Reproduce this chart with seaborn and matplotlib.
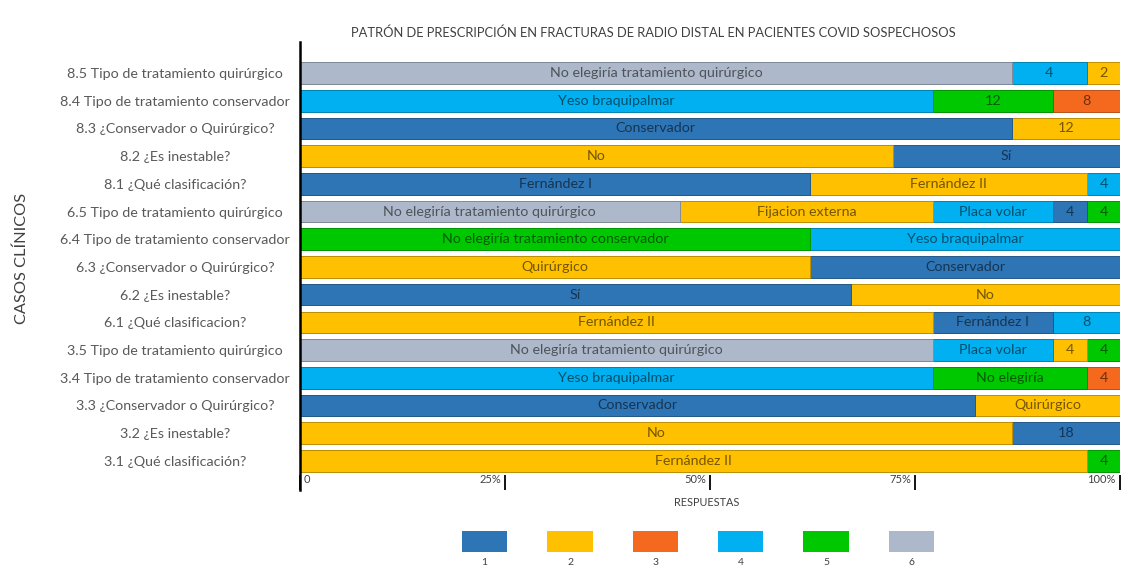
# plot.py
# Patrón de prescripción en fracturas de radio distal: barras apiladas al 100 %

import numpy as np
import pandas as pd
import matplotlib
matplotlib.use('Agg')
import matplotlib.pyplot as plt
import seaborn as sns
from matplotlib.colors import to_rgb
from matplotlib.transforms import blended_transform_factory

# ---- datos (de arriba a abajo) ----
questions = [
    '8.5 Tipo de tratamiento quirúrgico',
    '8.4 Tipo de tratamiento conservador',
    '8.3 ¿Conservador o Quirúrgico?',
    '8.2 ¿Es inestable?',
    '8.1 ¿Qué clasificación?',
    '6.5 Tipo de tratamiento quirúrgico',
    '6.4 Tipo de tratamiento conservador',
    '6.3 ¿Conservador o Quirúrgico?',
    '6.2 ¿Es inestable?',
    '6.1 ¿Qué clasificacion?',
    '3.5 Tipo de tratamiento quirúrgico',
    '3.4 Tipo de tratamiento conservador',
    '3.3 ¿Conservador o Quirúrgico?',
    '3.2 ¿Es inestable?',
    '3.1 ¿Qué clasificación?',
]

# categoría de respuesta (1-6) de cada tramo
seg_cats = [
    ['6', '4', '2'],
    ['4', '5', '3'],
    ['1', '2'],
    ['2', '1'],
    ['1', '2', '4'],
    ['6', '2', '4', '1', '5'],
    ['5', '4'],
    ['2', '1'],
    ['1', '2'],
    ['2', '1', '4'],
    ['6', '4', '2', '5'],
    ['4', '5', '3'],
    ['1', '2'],
    ['2', '1'],
    ['2', '5'],
]

# porcentaje de respuestas de cada tramo
seg_pcts = [
    [86.8, 9.2, 4.0],
    [77.2, 14.6, 8.2],
    [86.8, 13.2],
    [72.3, 27.7],
    [62.2, 33.8, 4.0],
    [46.3, 30.9, 14.6, 4.2, 4.0],
    [62.2, 37.8],
    [62.2, 37.8],
    [67.2, 32.8],
    [77.2, 14.6, 8.2],
    [77.2, 14.6, 4.2, 4.0],
    [77.2, 18.8, 4.0],
    [82.3, 17.7],
    [86.8, 13.2],
    [96.0, 4.0],
]

# etiqueta de cada tramo
seg_text = [
    ['No elegiría tratamiento quirúrgico', '4', '2'],
    ['Yeso braquipalmar', '12', '8'],
    ['Conservador', '12'],
    ['No', 'Sí'],
    ['Fernández I', 'Fernández II', '4'],
    ['No elegiría tratamiento quirúrgico', 'Fijacion externa', 'Placa volar', '4', '4'],
    ['No elegiría tratamiento conservador', 'Yeso braquipalmar'],
    ['Quirúrgico', 'Conservador'],
    ['Sí', 'No'],
    ['Fernández II', 'Fernández I', '8'],
    ['No elegiría tratamiento quirúrgico', 'Placa volar', '4', '4'],
    ['Yeso braquipalmar', 'No elegiría', '4'],
    ['Conservador', 'Quirúrgico'],
    ['No', '18'],
    ['Fernández II', '4'],
]

categories = ['1', '2', '3', '4', '5', '6']
palette = {'1': '#2E75B6', '2': '#FFC000', '3': '#F5691F',
           '4': '#00B0F0', '5': '#00C800', '6': '#ADB9CA'}

x_ticks = [0, 25, 50, 75, 100]
x_ticklabels = ['0', '25%', '50%', '75%', '100%']


def dark(color, f=0.45):
    return tuple(np.array(to_rgb(color)) * f)


# ---- tabla larga ----
rows = []
for q, cats, pcts, texts in zip(questions, seg_cats, seg_pcts, seg_text):
    left = 0.0
    for k, (c, p, t) in enumerate(zip(cats, pcts, texts)):
        rows.append(dict(question=q, pos=k, cat=c, pct=p,
                         end=left + p, mid=left + p / 2, text=t))
        left += p
df = pd.DataFrame(rows)

sns.set_theme(style='white')
plt.rcParams['font.family'] = ['Lato', 'DejaVu Sans']

fig = plt.figure(figsize=(11.33, 5.71), dpi=100)
ax = fig.add_axes([300 / 1133, 1 - 490 / 571, 820 / 1133, 448 / 571])

# barras acumuladas, del último tramo al primero
for k in sorted(df['pos'].unique(), reverse=True):
    sub = df[df['pos'] == k]
    sns.barplot(data=sub, x='end', y='question', hue='cat', order=questions,
                hue_order=categories, palette=palette, dodge=False,
                legend=False, width=0.78, saturation=1, orient='h', ax=ax,
                errorbar=None)

for p in ax.patches:
    p.set_edgecolor(dark(p.get_facecolor(), 0.75))
    p.set_linewidth(0.7)

# etiquetas dentro de las barras
ypos = {q: i for i, q in enumerate(questions)}
for _, r in df.iterrows():
    ax.text(r['mid'], ypos[r['question']], r['text'], ha='center', va='center',
            fontsize=10.3, color=dark(palette[r['cat']]))

ax.set_xlim(0, 100)
ax.set_ylim(15.05, -1.12)
ax.set_yticks(range(len(questions)))
ax.set_yticklabels(questions, ha='center', fontsize=10.3, color='#595959')
ax.tick_params(axis='y', length=0, pad=90)

ax.set_xticks(x_ticks)
ax.set_xticklabels([])
ax.tick_params(axis='x', direction='in', length=11, width=1.3,
               color='black', bottom=True)
trans = blended_transform_factory(ax.transData, ax.transAxes)
for v, lab in zip(x_ticks, x_ticklabels):
    if v == 0:
        ax.text(v + 0.4, 0.012, lab, transform=trans, ha='left', va='bottom',
                fontsize=8, color='#404040')
    else:
        ax.text(v - 0.5, 0.012, lab, transform=trans, ha='right', va='bottom',
                fontsize=8, color='#404040')

ax.set_xlabel('')
ax.set_ylabel('')
for s in ['top', 'right', 'bottom']:
    ax.spines[s].set_visible(False)
ax.spines['left'].set_color('black')
ax.spines['left'].set_linewidth(1.8)

fig.text(707 / 1133, 1 - 503 / 571, 'RESPUESTAS', ha='center', va='center',
         fontsize=7.8, color='#404040')
fig.text(22 / 1133, 1 - 258 / 571, 'CASOS CLÍNICOS', rotation=90,
         ha='center', va='center', fontsize=11.8, color='#404040')
fig.text(653 / 1133, 1 - 33 / 571,
         'PATRÓN DE PRESCRIPCIÓN EN FRACTURAS DE RADIO DISTAL EN PACIENTES COVID SOSPECHOSOS',
         ha='center', va='center', fontsize=9.3, color='#404040')

# leyenda: cuadros con el número debajo
lax = fig.add_axes([442 / 1133, 0, 512 / 1133, 46 / 571])
lax.set_xlim(-0.5, len(categories) - 0.5)
lax.set_ylim(0, 1)
lax.axis('off')
for i, c in enumerate(categories):
    lax.add_patch(plt.Rectangle((i - 0.265, 0.413), 0.53, 0.457,
                                facecolor=palette[c], edgecolor='none'))
    lax.text(i, 0.174, c, ha='center', va='center', fontsize=7.5,
             color='#404040')

fig.savefig('out.png', dpi=100)
